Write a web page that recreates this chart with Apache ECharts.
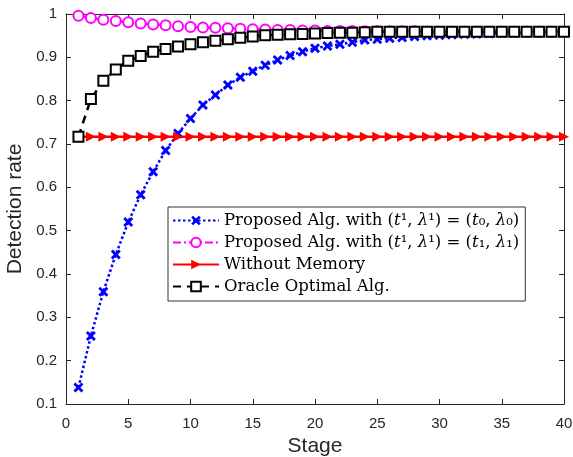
<!DOCTYPE html>
<html>
<head>
  <meta charset="UTF-8">
  <title>Detection rate</title>
  <script type="text/javascript" src="https://cdn.jsdelivr.net/npm/echarts@6/dist/echarts.min.js"></script>
  <style>
    html, body { margin: 0; padding: 0; background: #fff; }
  </style>
</head>
<body>
<div id="chart" style="width:573px; height:457px;"></div>
<script>
  // ===== data =====
  const stages = [1, 2, 3, 4, 5, 6, 7, 8, 9, 10, 11, 12, 13, 14, 15, 16, 17, 18, 19, 20,
    21, 22, 23, 24, 25, 26, 27, 28, 29, 30, 31, 32, 33, 34, 35, 36, 37, 38, 39, 40];

  const propT0 = [0.138, 0.257, 0.359, 0.445, 0.520, 0.583, 0.636, 0.685, 0.724, 0.759,
    0.790, 0.813, 0.836, 0.854, 0.868, 0.882, 0.894, 0.904, 0.913, 0.921,
    0.926, 0.930, 0.935, 0.940, 0.942, 0.944, 0.946, 0.948, 0.950, 0.951,
    0.952, 0.953, 0.954, 0.955, 0.956, 0.956, 0.957, 0.957, 0.958, 0.958];

  const propT1 = [0.996, 0.991, 0.987, 0.984, 0.981, 0.978, 0.976, 0.974, 0.972, 0.970,
    0.969, 0.968, 0.967, 0.966, 0.965, 0.964, 0.963, 0.963, 0.962, 0.962,
    0.961, 0.961, 0.961, 0.960, 0.960, 0.960, 0.960, 0.960, 0.959, 0.959,
    0.959, 0.959, 0.959, 0.959, 0.959, 0.959, 0.959, 0.959, 0.959, 0.959];

  const noMemory = [0.717, 0.717, 0.717, 0.717, 0.717, 0.717, 0.717, 0.717, 0.717, 0.717,
    0.717, 0.717, 0.717, 0.717, 0.717, 0.717, 0.717, 0.717, 0.717, 0.717,
    0.717, 0.717, 0.717, 0.717, 0.717, 0.717, 0.717, 0.717, 0.717, 0.717,
    0.717, 0.717, 0.717, 0.717, 0.717, 0.717, 0.717, 0.717, 0.717, 0.717];

  const oracle = [0.717, 0.804, 0.846, 0.872, 0.892, 0.903, 0.913, 0.919, 0.925, 0.930,
    0.935, 0.938, 0.942, 0.945, 0.948, 0.951, 0.952, 0.953, 0.954, 0.955,
    0.956, 0.957, 0.957, 0.958, 0.959, 0.959, 0.959, 0.959, 0.959, 0.959,
    0.959, 0.959, 0.959, 0.959, 0.959, 0.959, 0.959, 0.959, 0.959, 0.959];

  const xTicks = { min: 0, max: 40, interval: 5 };
  const yTicks = { min: 0.1, max: 1, interval: 0.1 };

  const names = [
    'Proposed Alg. with (t0)',
    'Proposed Alg. with (t1)',
    'Without Memory',
    'Oracle Optimal Alg.'
  ];
  // legend labels with the math bits in italic
  const legendText = {
    [names[0]]: '{n|Proposed Alg. with (}{i|t}{n|¹, }{i|λ}{n|¹) = (}{i|t}{n|₀, }{i|λ}{n|₀)}',
    [names[1]]: '{n|Proposed Alg. with (}{i|t}{n|¹, }{i|λ}{n|¹) = (}{i|t}{n|₁, }{i|λ}{n|₁)}',
    [names[2]]: '{n|Without Memory}',
    [names[3]]: '{n|Oracle Optimal Alg.}'
  };

  const pair = ys => stages.map((s, i) => [s, ys[i]]);

  const axisColor = '#262626';
  const xMark = 'path://M2,0 L5,3 L8,0 L10,2 L7,5 L10,8 L8,10 L5,7 L2,10 L0,8 L3,5 L0,2 Z';
  const rightTri = 'path://M0,0 L10,5 L0,10 Z';

  let chart = echarts.init(document.getElementById('chart'), null, {renderer: 'canvas'});

  const baseX = {
    type: 'value', min: xTicks.min, max: xTicks.max, interval: xTicks.interval,
    axisLine: {onZero: false, lineStyle: {color: axisColor, width: 1}},
    axisTick: {inside: true, length: 5, lineStyle: {color: axisColor}},
    splitLine: {show: false}
  };
  const baseY = {
    type: 'value', min: yTicks.min, max: yTicks.max, interval: yTicks.interval,
    axisLine: {onZero: false, lineStyle: {color: axisColor, width: 1}},
    axisTick: {inside: true, length: 5, lineStyle: {color: axisColor}},
    splitLine: {show: false}
  };

  const serif = 'DejaVu Serif';

  chart.setOption({
    animation: false,
    backgroundColor: '#fff',
    grid: {left: 66, right: 9, top: 14, bottom: 53, outerBoundsMode: 'none', containLabel: false},
    legend: {
      orient: 'vertical',
      left: 168, top: 207,
      backgroundColor: '#fff',
      borderColor: '#333',
      borderWidth: 1,
      borderRadius: 0,
      padding: [5, 6, 6, 4],
      itemWidth: 46,
      itemHeight: 12,
      itemGap: 5,
      data: names,
      formatter: n => legendText[n],
      textStyle: {
        color: '#000',
        rich: {
          n: {fontFamily: serif, fontSize: 16.5, color: '#000'},
          i: {fontFamily: serif, fontStyle: 'italic', fontSize: 16.5, color: '#000'}
        }
      }
    },
    xAxis: [
      Object.assign({}, baseX, {
        position: 'bottom',
        name: 'Stage', nameLocation: 'middle', nameGap: 32,
        nameTextStyle: {fontFamily: 'Liberation Sans', fontSize: 21, color: axisColor},
        axisLabel: {margin: 12, fontFamily: 'Liberation Sans', fontSize: 15, color: axisColor}
      }),
      Object.assign({}, baseX, {position: 'top', axisLabel: {show: false}})
    ],
    yAxis: [
      Object.assign({}, baseY, {
        position: 'left',
        name: 'Detection rate', nameLocation: 'middle', nameGap: 31,
        nameTextStyle: {fontFamily: 'Liberation Sans', fontSize: 21, color: axisColor},
        axisLabel: {
          margin: 9, fontFamily: 'Liberation Sans', fontSize: 15, color: axisColor,
          formatter: v => String(+v.toFixed(1))
        }
      }),
      Object.assign({}, baseY, {position: 'right', axisLabel: {show: false}})
    ],
    series: [
      {
        name: names[0], type: 'line', data: pair(propT0),
        symbol: xMark, symbolSize: 10,
        itemStyle: {color: '#0000ff'},
        lineStyle: {color: '#0000ff', width: 2.5, type: [2.5, 2.5]}
      },
      {
        name: names[1], type: 'line', data: pair(propT1),
        symbol: 'emptyCircle', symbolSize: 10,
        itemStyle: {color: '#ff00ff', borderWidth: 2.5},
        lineStyle: {color: '#ff00ff', width: 2.5, type: [8, 3, 2, 3]}
      },
      {
        name: names[2], type: 'line', data: pair(noMemory),
        symbol: rightTri, symbolSize: 10,
        itemStyle: {color: '#ff0000'},
        lineStyle: {color: '#ff0000', width: 2.5, type: 'solid'}
      },
      {
        name: names[3], type: 'line', data: pair(oracle),
        symbol: 'emptyRect', symbolSize: 10,
        itemStyle: {color: '#000', borderWidth: 2.5},
        lineStyle: {color: '#000', width: 2.5, type: [8, 6]}
      }
    ]
  });
</script>
</body>
</html>
